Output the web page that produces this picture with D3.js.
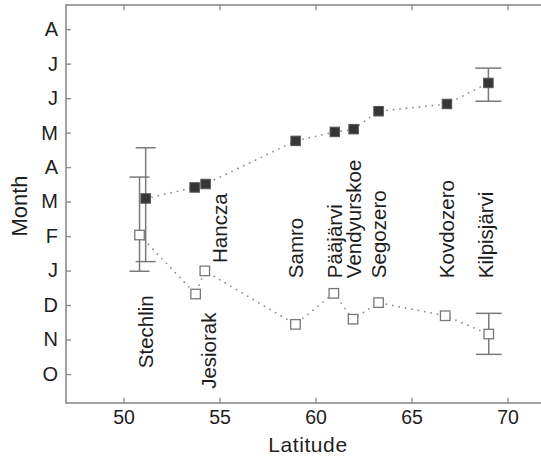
<!DOCTYPE html>
<html>
<head>
<meta charset="utf-8">
<script src="https://cdn.jsdelivr.net/npm/d3@7"></script>
<style>
  body { margin: 0; background: #fff; }
  svg text { font-family: "Liberation Sans", Arial, sans-serif; fill: #1e1e1e; }
</style>
</head>
<body>
<div class="canvas"></div>
<script>
const lakes = ["Stechlin", "Jesiorak", "Hancza", "Samro", "Pääjärvi", "Vendyurskoe", "Segozero", "Kovdozero", "Kilpisjärvi"];
const latFilled = [51.15, 53.7, 54.27, 58.96, 61.0, 61.98, 63.28, 66.84, 69.0];
const monthFilled = [5.09, 5.41, 5.51, 6.76, 7.02, 7.10, 7.62, 7.83, 8.44];
const latOpen = [50.83, 53.75, 54.23, 58.95, 60.95, 61.95, 63.28, 66.75, 69.02];
const monthOpen = [4.03, 2.32, 2.99, 1.44, 2.34, 1.59, 2.07, 1.69, 1.16];
// error bars: [lat, low, high]
const errFilled = [[51.15, 3.26, 6.56], [69.0, 7.91, 8.87]];
const errOpen = [[50.83, 2.98, 5.71], [69.02, 0.57, 1.76]];
// label anchors (latitude, month value where text starts)
const labelLat = [51.15, 54.45, 54.98, 58.95, 61.0, 62.0, 63.3, 66.8, 68.85];
const labelMonth = [0.17, -0.43, 3.22, 2.78, 2.78, 2.78, 2.78, 2.78, 2.78];
const monthTicks = ["O", "N", "D", "J", "F", "M", "A", "M", "J", "J", "A"];
const latTicks = [50, 55, 60, 65, 70];

(function () {
  const width = 541, height = 459;
  const PLOT_LEFT = 66, PLOT_RIGHT = 546, PLOT_TOP = 5, PLOT_BOTTOM = 403;

  const svg = d3.select(".canvas").append("svg")
    .attr("width", width).attr("height", height);

  const x = d3.scaleLinear().domain([47, 72]).range([PLOT_LEFT, PLOT_RIGHT]);
  const y = d3.scaleLinear().domain([-0.84, 10.7]).range([PLOT_BOTTOM, PLOT_TOP]);

  const axisColor = "#8c8c8c";

  // frame
  svg.append("rect")
    .attr("x", PLOT_LEFT).attr("y", PLOT_TOP)
    .attr("width", PLOT_RIGHT - PLOT_LEFT).attr("height", PLOT_BOTTOM - PLOT_TOP)
    .attr("fill", "none").attr("stroke", axisColor).attr("stroke-width", 1.6);

  function styleAxis(g, size) {
    g.select(".domain").remove();
    g.selectAll(".tick line").attr("stroke", axisColor).attr("stroke-width", 1.4);
    g.selectAll(".tick text").attr("font-size", size).attr("fill", "#1e1e1e");
  }

  svg.append("g").attr("transform", `translate(0,${PLOT_BOTTOM})`)
    .call(d3.axisBottom(x).tickValues(latTicks).tickSizeInner(-5).tickSizeOuter(0).tickPadding(7))
    .call(styleAxis, 19.5);
  svg.append("g").attr("transform", `translate(0,${PLOT_TOP})`)
    .call(d3.axisTop(x).tickValues(latTicks).tickSizeInner(-5).tickSizeOuter(0).tickFormat(""))
    .call(styleAxis, 19.5);
  svg.append("g").attr("transform", `translate(${PLOT_LEFT},0)`)
    .call(d3.axisLeft(y).tickValues(d3.range(monthTicks.length)).tickFormat(i => monthTicks[i])
      .tickSizeInner(-5).tickSizeOuter(0).tickPadding(8))
    .call(styleAxis, 20);

  // axis titles
  svg.append("text").attr("x", x(59.6)).attr("y", 452)
    .attr("text-anchor", "middle").attr("font-size", 21).attr("letter-spacing", 0.6).text("Latitude");
  svg.append("text")
    .attr("transform", `translate(27,206) rotate(-90)`)
    .attr("text-anchor", "middle").attr("font-size", 22).text("Month");

  // dotted connecting lines
  const filledPts = latFilled.map((d, i) => [d, monthFilled[i]]);
  const openPts = latOpen.map((d, i) => [d, monthOpen[i]]);
  const line = d3.line().x(d => x(d[0])).y(d => y(d[1]));
  [filledPts, openPts].forEach(pts => {
    svg.append("path").attr("d", line(pts))
      .attr("fill", "none").attr("stroke", "#8a8a8a").attr("stroke-width", 1.8)
      .attr("stroke-linecap", "round").attr("stroke-dasharray", "0,6.5");
  });

  // error bars
  function drawErr(data, cap) {
    const g = svg.append("g").attr("stroke", "#7a7a7a").attr("stroke-width", 1.5);
    data.forEach(([lat, lo, hi]) => {
      g.append("line").attr("x1", x(lat)).attr("x2", x(lat)).attr("y1", y(lo)).attr("y2", y(hi));
      [lo, hi].forEach(v => g.append("line")
        .attr("x1", x(lat) - cap).attr("x2", x(lat) + cap).attr("y1", y(v)).attr("y2", y(v)));
    });
  }
  drawErr([errOpen[0]], 10);
  drawErr([errFilled[0]], 10);
  drawErr([errFilled[1]], 13);
  drawErr([errOpen[1]], 13);

  // markers
  const s = 9.5;
  svg.selectAll("rect.filled").data(filledPts).join("rect").attr("class", "filled")
    .attr("x", d => x(d[0]) - s / 2).attr("y", d => y(d[1]) - s / 2)
    .attr("width", s).attr("height", s)
    .attr("fill", "#363636").attr("stroke", "#555").attr("stroke-width", 1);
  svg.selectAll("rect.open").data(openPts).join("rect").attr("class", "open")
    .attr("x", d => x(d[0]) - s / 2).attr("y", d => y(d[1]) - s / 2)
    .attr("width", s).attr("height", s)
    .attr("fill", "#fff").attr("stroke", "#777").attr("stroke-width", 1.3);

  // lake labels
  svg.selectAll("text.lake").data(lakes).join("text").attr("class", "lake")
    .attr("transform", (d, i) => `translate(${x(labelLat[i])},${y(labelMonth[i])}) rotate(-90)`)
    .attr("dy", "0.36em").attr("font-size", 20.5).text(d => d);
})();
</script>
</body>
</html>
